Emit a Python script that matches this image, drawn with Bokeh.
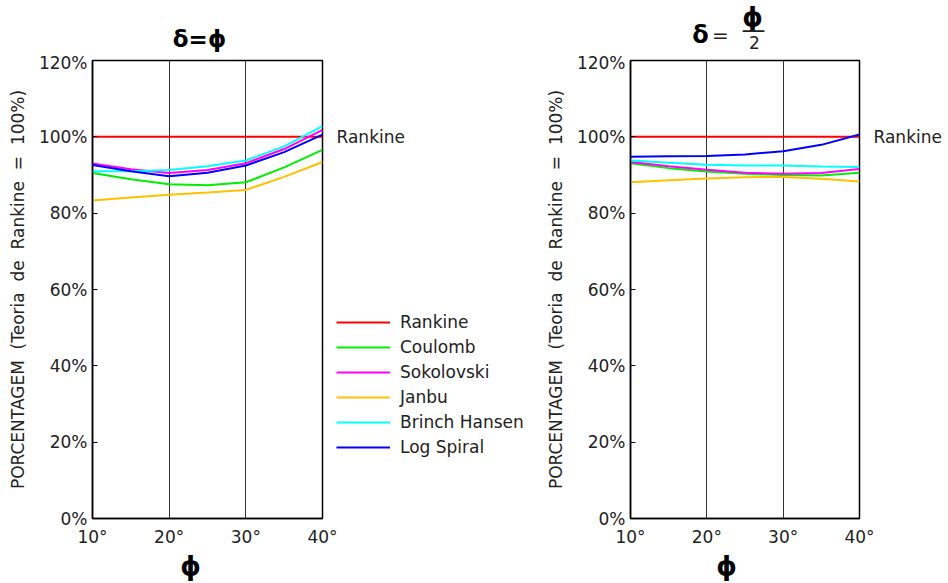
from bokeh.plotting import figure
from bokeh.layouts import row, column
from bokeh.models import Label, Legend, LegendItem, FixedTicker, Range1d, LinearAxis
from bokeh.embed import file_html
from bokeh.resources import INLINE

# ---------------- data ----------------
phi = [10, 15, 20, 25, 30, 35, 40]
x_ticks = [10, 20, 30, 40]
x_tick_labels = ["10°", "20°", "30°", "40°"]
y_ticks = [0, 20, 40, 60, 80, 100, 120]
y_tick_labels = ["0%", "20%", "40%", "60%", "80%", "100%", "120%"]

series_names = ["Rankine", "Coulomb", "Sokolovski", "Janbu", "Brinch Hansen", "Log Spiral"]
series_colors = ["#ff0000", "#00ee00", "#ff00ff", "#ffc000", "#00ffff", "#0000ff"]

# delta = phi
L_rankine = [100, 100, 100, 100, 100, 100, 100]
L_coulomb = [90.5, 88.9, 87.6, 87.3, 88.1, 92.0, 96.6]
L_sokolovski = [93.0, 91.5, 90.5, 91.3, 93.1, 96.8, 101.8]
L_janbu = [83.3, 84.1, 84.8, 85.4, 86.1, 89.5, 93.4]
L_brinch = [91.0, 91.0, 91.3, 92.3, 93.8, 97.5, 102.8]
L_logspiral = [92.6, 91.0, 89.7, 90.6, 92.5, 96.0, 100.6]

# delta = phi / 2
R_rankine = [100, 100, 100, 100, 100, 100, 100]
R_coulomb = [93.1, 91.8, 90.9, 90.3, 90.0, 89.9, 90.6]
R_sokolovski = [93.4, 92.3, 91.4, 90.6, 90.3, 90.5, 91.6]
R_janbu = [88.1, 88.6, 89.1, 89.4, 89.5, 89.0, 88.3]
R_brinch = [93.8, 93.2, 92.7, 92.5, 92.5, 92.2, 92.1]
R_logspiral = [94.8, 94.9, 95.0, 95.4, 96.2, 97.9, 100.6]

FONT = "DejaVu Sans"
TXT = "#222222"
Y_LABEL = "PORCENTAGEM\u00a0\u00a0(Teoria\u00a0\u00a0de\u00a0\u00a0Rankine\u00a0\u00a0=\u00a0\u00a0100%)"

L_series = [L_rankine, L_coulomb, L_sokolovski, L_janbu, L_brinch, L_logspiral]
R_series = [R_rankine, R_coulomb, R_sokolovski, R_janbu, R_brinch, R_logspiral]


def blank(p):
    p.axis.visible = False
    p.grid.visible = False
    p.outline_line_color = None
    p.background_fill_alpha = 0
    p.border_fill_alpha = 0
    return p


def make_panel(series, min_left, fw, min_right, rankine_axis):
    p = figure(output_backend="svg", toolbar_location=None,
               frame_width=fw, frame_height=458,
               min_border_left=min_left, min_border_right=min_right,
               min_border_top=8, min_border_bottom=32,
               x_range=Range1d(10, 40), y_range=Range1d(0, 120))
    p.background_fill_color = "white"
    p.border_fill_alpha = 0
    p.outline_line_color = "black"
    p.outline_line_width = 1.5

    p.xaxis.ticker = FixedTicker(ticks=x_ticks)
    p.xaxis.major_label_overrides = dict(zip(x_ticks, x_tick_labels))
    p.yaxis.ticker = FixedTicker(ticks=y_ticks)
    p.yaxis.major_label_overrides = dict(zip(y_ticks, y_tick_labels))
    for ax in (p.xaxis, p.yaxis):
        ax.axis_line_color = "black"
        ax.axis_line_width = 1.5
        ax.major_label_text_font = FONT
        ax.major_label_text_font_size = "17px"
        ax.major_label_text_color = TXT
        ax.minor_tick_line_color = None
        ax.major_tick_line_color = "black"
    p.xaxis.major_tick_in = 0
    p.xaxis.major_tick_out = 0
    p.xaxis.major_label_standoff = 8
    p.yaxis.major_tick_in = 5
    p.yaxis.major_tick_out = 0
    p.yaxis.major_label_standoff = 5
    p.yaxis.axis_label = Y_LABEL
    p.yaxis.axis_label_text_font = FONT
    p.yaxis.axis_label_text_font_style = "normal"
    p.yaxis.axis_label_text_font_size = "17px"
    p.yaxis.axis_label_text_color = TXT
    p.yaxis.axis_label_standoff = 8

    p.xgrid.grid_line_color = "#333333"
    p.xgrid.grid_line_width = 1
    p.ygrid.grid_line_color = None

    for ys, c in zip(series, series_colors):
        p.line(phi, ys, line_color=c, line_width=2)

    if rankine_axis:
        ax = LinearAxis(ticker=FixedTicker(ticks=[100]), major_label_overrides={100: "Rankine"},
                        axis_line_color=None, major_tick_line_color=None, minor_tick_line_color=None,
                        major_tick_in=0, major_tick_out=0, major_label_standoff=14,
                        major_label_text_font=FONT, major_label_text_font_size="17px",
                        major_label_text_color=TXT)
        p.add_layout(ax, "right")
    return p


left = make_panel(L_series, 92, 230, 21, False)
right = make_panel(R_series, 92, 229, 89, True)

# middle strip: Rankine label of the left panel and the legend
mid = figure(output_backend="svg", toolbar_location=None, width=216, height=498,
             min_border_left=0, min_border_right=0, min_border_top=8, min_border_bottom=32,
             x_range=Range1d(0, 1), y_range=left.y_range)
blank(mid)
mid.margin = (0, 0, 0, -21)
mid.add_layout(Label(x=0, y=100, x_offset=14, text="Rankine",
                     text_font=FONT, text_font_size="17px", text_color=TXT,
                     text_baseline="middle", text_align="left"))
# legend proxies: same series, lying outside this strip's x range (not visible)
proxies = [mid.line(phi, ys, line_color=c, line_width=2) for ys, c in zip(L_series, series_colors)]
legend = Legend(items=[LegendItem(label=n, renderers=[r]) for n, r in zip(series_names, proxies)],
                location=(14, 61), orientation="vertical",
                glyph_width=54, glyph_height=20, label_height=20, label_standoff=10,
                spacing=5, padding=0, margin=0,
                label_text_font=FONT, label_text_font_size="17px", label_text_color=TXT,
                border_line_color=None, background_fill_alpha=0)
mid.add_layout(legend)

# header with the panel titles (pixel coordinates)
header = figure(output_backend="svg", toolbar_location=None, width=948, height=52,
                min_border=0, x_range=Range1d(0, 948), y_range=Range1d(52, 0))
blank(header)
bold = dict(text_font=FONT, text_font_style="bold", text_color="black",
            text_align="center", text_baseline="middle")
normal = dict(text_font=FONT, text_font_style="normal", text_color=TXT,
              text_align="center", text_baseline="middle")
header.add_layout(Label(x=199, y=38, text="δ=ϕ", text_font_size="23px", **bold))
header.add_layout(Label(x=700, y=34, text="δ", text_font_size="24px", **bold))
header.add_layout(Label(x=720, y=34, text="=", text_font_size="20px", **normal))
header.add_layout(Label(x=752, y=16, text="ϕ", text_font_size="26px", **bold))
header.add_layout(Label(x=753, y=29, text="—", text_font_size="24px", **normal))
header.add_layout(Label(x=754, y=42, text="2", text_font_size="17px", **normal))

# footer with the x-axis symbol
footer = figure(output_backend="svg", toolbar_location=None, width=948, height=33,
                min_border=0, x_range=Range1d(0, 948), y_range=Range1d(33, 0))
blank(footer)
footer.add_layout(Label(x=190, y=15, text="ϕ", text_font_size="26px", **bold))
footer.add_layout(Label(x=726, y=15, text="ϕ", text_font_size="26px", **bold))

layout = column(header, row(left, mid, right), footer)
open("out.html", "w").write(file_html(layout, INLINE))
